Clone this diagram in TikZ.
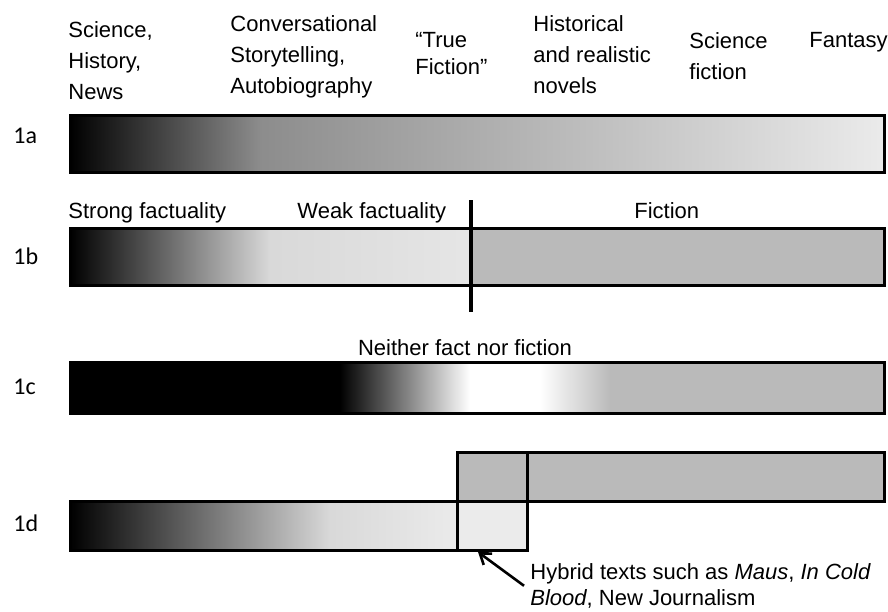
\documentclass[tikz,border=0pt]{standalone}
\usepackage{fontspec}
\setmainfont{Liberation Sans}
\newfontfamily\rowfont{Carlito}
\usetikzlibrary{arrows.meta}

\tikzset{
  genre/.style={anchor=north west,inner sep=0pt,align=left,font=\fontsize{11}{15.5}\selectfont},
  zone/.style={anchor=base west,inner sep=0pt,font=\fontsize{11}{13}\selectfont},
  rowlabel/.style={anchor=base west,inner sep=0pt,font=\rowfont\fontsize{12}{14}\selectfont},
  frame/.style={line width=1.5pt},
}
\colorlet{fictiongray}{black!27}

\begin{document}
\begin{tikzpicture}[x=0.5pt,y=-0.5pt]
  \useasboundingbox (0,0) rectangle (888,611);

  % genre headings
  \node[genre] (sci) at (68,21) {Science,\\History,\\News};
  \node[genre] (conv) at (230,15) {Conversational\\Storytelling,\\Autobiography};
  \node[genre,font=\fontsize{11}{13.5}\selectfont] (truefic) at (415,32) {``True\\Fiction''};
  \node[genre] (hist) at (533,15) {Historical\\and realistic\\novels};
  \node[genre] (scifi) at (689,32) {Science\\fiction};
  \node[genre] (fant) at (809,32) {Fantasy};

  % 1a
  \node[rowlabel] (la) at (13,143) {1a};
  \shade[left color=black,right color=black!45] (70,115) rectangle (260,172);
  \shade[left color=black!45,right color=black!8] (260,115) rectangle (884,172);
  \draw[frame] (70,115) rectangle (884,172);

  % 1b
  \node[rowlabel] (lb) at (13,264) {1b};
  \node[zone] (strong) at (68,218) {Strong factuality};
  \node[zone] (weak) at (297,218) {Weak factuality};
  \node[zone] (fic) at (634,218) {Fiction};
  \shade[left color=black,right color=black!15] (70,228) rectangle (270,285);
  \shade[left color=black!15,right color=black!10] (270,228) rectangle (471,285);
  \fill[fictiongray] (471,228) rectangle (884,285);
  \draw[frame] (70,228) rectangle (884,285);
  \draw[line width=2pt] (471,200) -- (471,312);

  % 1c
  \node[rowlabel] (lc) at (13,394) {1c};
  \node[zone,anchor=base] (neither) at (465,355) {Neither fact nor fiction};
  \fill[black] (70,362) rectangle (340,413);
  \shade[left color=black,right color=white] (340,362) rectangle (470,413);
  \shade[left color=white,right color=fictiongray] (540,362) rectangle (610,413);
  \fill[fictiongray] (610,362) rectangle (884,413);
  \draw[frame] (70,362) rectangle (884,413);

  % 1d
  \node[rowlabel] (ld) at (13,531) {1d};
  \fill[fictiongray] (457,452) rectangle (884,501);
  \shade[left color=black,right color=black!15] (70,501) rectangle (330,550);
  \shade[left color=black!15,right color=black!8] (330,501) rectangle (457,550);
  \fill[black!8] (457,501) rectangle (527,550);
  \draw[frame] (457,452) rectangle (884,501);
  \draw[frame] (70,501) rectangle (527,550);
  \draw[frame] (457,452) -- (457,550);
  \draw[frame] (527,452) -- (527,550);

  \node[genre,font=\fontsize{11}{13}\selectfont] (hybrid) at (530,563)
    {Hybrid texts such as \textit{Maus}, \textit{In Cold}\\\textit{Blood}, New Journalism};
  \coordinate (overlap) at (478,552);
  \draw[line width=1.3pt,-{Straight Barb[length=5pt,width=7pt]}] ([xshift=-3pt]hybrid.west) -- (overlap);
\end{tikzpicture}
\end{document}
